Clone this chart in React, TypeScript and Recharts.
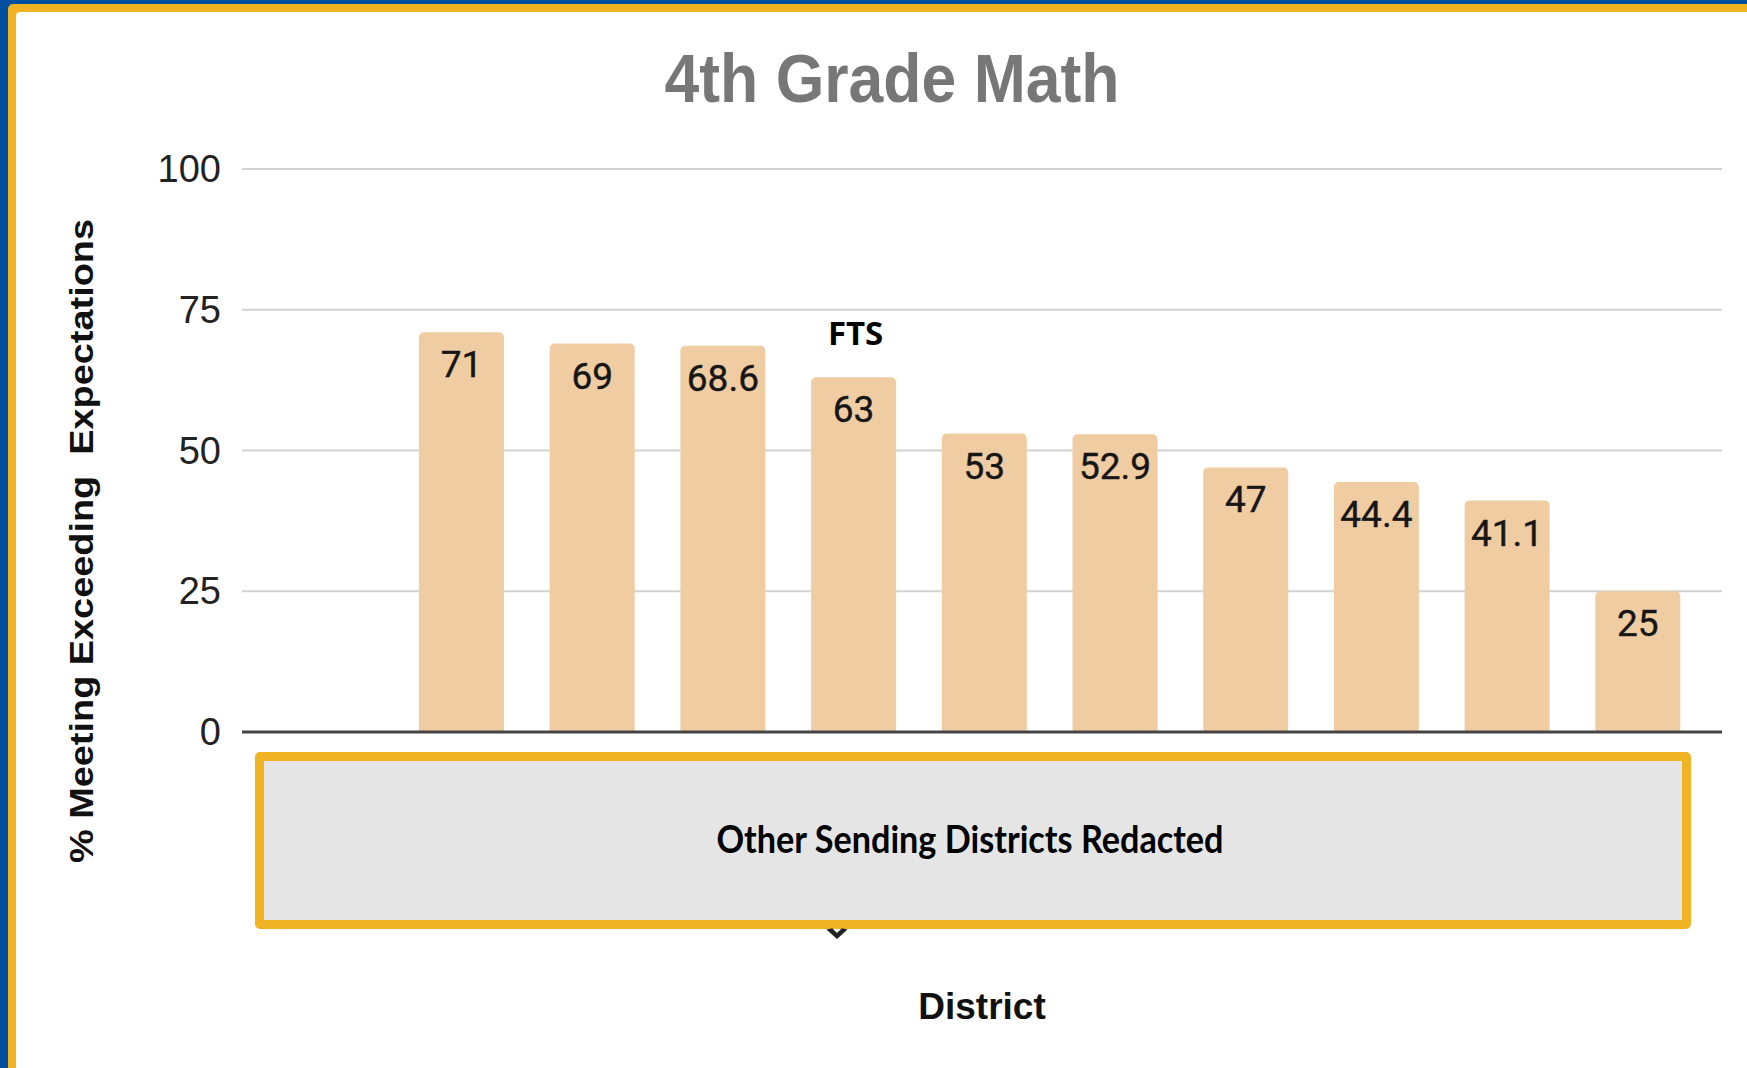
import { BarChart, Bar, XAxis, YAxis, CartesianGrid, LabelList } from "recharts";

// district names are redacted in the source, only FTS is shown
const districts = [
  "District A",
  "District B",
  "District C",
  "FTS",
  "District E",
  "District F",
  "District G",
  "District H",
  "District I",
  "District J",
];
const scores = [71, 69, 68.6, 63, 53, 52.9, 47, 44.4, 41.1, 25];
const yTicks = [0, 25, 50, 75, 100];
const highlighted = "FTS";

const data = districts.map((name, i) => ({ name, score: scores[i] }));

const W = 1747;
const H = 1068;
const arial = "'Liberation Sans', Arial, sans-serif";

function YTick({ y, payload }: any) {
  return (
    <text x={221} y={y + 13} textAnchor="end" fontFamily={arial} fontSize={38} fill="#222">
      {payload.value}
    </text>
  );
}

function ValueLabel({ x, y, width, value }: any) {
  return (
    <text
      x={x + width / 2}
      y={y + 45}
      textAnchor="middle"
      fontFamily="Roboto, sans-serif"
      fontSize={37}
      fill="#161616"
      stroke="#161616"
      strokeWidth={0.4}
    >
      {value}
    </text>
  );
}

function NameLabel({ x, y, width, value }: any) {
  if (value !== highlighted) return null;
  return (
    <text
      x={x + width / 2 + 2}
      y={y - 32}
      textAnchor="middle"
      fontFamily="'Open Sans', sans-serif"
      fontWeight={700}
      fontSize={33}
      fill="#000"
    >
      {value}
    </text>
  );
}

export default function App() {
  return (
    <div style={{ position: "absolute", left: 0, top: 0, width: W, height: H, overflow: "hidden", background: "#0150a0" }}>
      <div style={{ position: "absolute", left: 8, top: 4, right: -10, bottom: -10, background: "#f1b321", borderTopLeftRadius: 5 }} />
      <div style={{ position: "absolute", left: 16, top: 12, right: -10, bottom: -10, background: "#fff", borderTopLeftRadius: 4 }} />

      <div style={{ position: "absolute", left: 0, top: 0 }}>
        <BarChart width={W} height={H} data={data} margin={{ top: 169, right: 25, bottom: 306, left: 0 }}>
          <CartesianGrid vertical={false} stroke="#d2d2d2" strokeWidth={2} />
          <XAxis
            dataKey="name"
            tick={false}
            tickLine={false}
            height={30}
            padding={{ left: 154, right: 19 }}
            axisLine={{ stroke: "#444", strokeWidth: 3 }}
          />
          <YAxis
            width={242}
            domain={[0, 100]}
            ticks={yTicks}
            axisLine={false}
            tickLine={false}
            tick={<YTick />}
          />
          <Bar dataKey="score" fill="#f0cca2" barSize={85} radius={[5, 5, 0, 0]} isAnimationActive={false}>
            <LabelList dataKey="score" content={<ValueLabel />} />
            <LabelList dataKey="name" content={<NameLabel />} />
          </Bar>
        </BarChart>
      </div>

      <div
        style={{
          position: "absolute",
          left: 255,
          top: 752,
          width: 1436,
          height: 177,
          boxSizing: "border-box",
          border: "9px solid #f0b323",
          background: "#e5e5e5",
          borderRadius: 5,
        }}
      />

      <svg width={W} height={H} style={{ position: "absolute", left: 0, top: 0, pointerEvents: "none" }}>
        <text
          x={892}
          y={102}
          textAnchor="middle"
          fontFamily={arial}
          fontWeight={700}
          fontSize={68}
          fill="#777"
          textLength={455}
          lengthAdjust="spacingAndGlyphs"
        >
          4th Grade Math
        </text>
        <text
          transform="translate(93, 541) rotate(-90)"
          textAnchor="middle"
          fontFamily={arial}
          fontWeight={700}
          fontSize={33}
          fill="#111"
          textLength={644}
          lengthAdjust="spacingAndGlyphs"
          style={{ whiteSpace: "pre" }}
        >
          % Meeting Exceeding  Expectations
        </text>
        <text
          x={970}
          y={853}
          textAnchor="middle"
          fontFamily="Lato, sans-serif"
          fontWeight={700}
          fontSize={38}
          fill="#000"
          textLength={507}
          lengthAdjust="spacingAndGlyphs"
        >
          Other Sending Districts Redacted
        </text>
        <path d="M828 930 L837 938 L846 930 L842 929 L837 934 L832 929 Z" fill="#222" stroke="#222" strokeWidth={1.5} />
        <text x={982} y={1019} textAnchor="middle" fontFamily={arial} fontWeight={700} fontSize={37} fill="#111">
          District
        </text>
      </svg>
    </div>
  );
}
